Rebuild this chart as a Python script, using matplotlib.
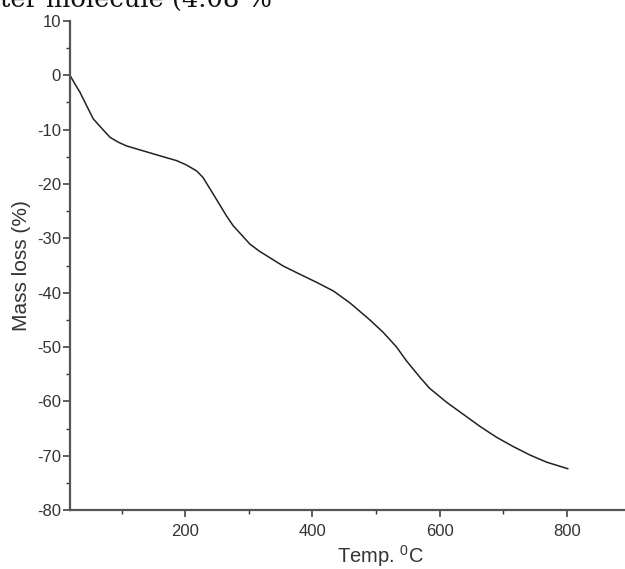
import numpy as np
import matplotlib
matplotlib.use("Agg")
import matplotlib.pyplot as plt
from matplotlib.ticker import MultipleLocator

plt.rcParams['font.family'] = ['Liberation Sans', 'DejaVu Sans']
plt.rcParams['axes.unicode_minus'] = False
plt.rcParams['mathtext.fontset'] = 'custom'
plt.rcParams['mathtext.rm'] = 'Liberation Sans'

# TGA curve
temp = [19, 26.8, 34.6, 45.2, 55.5, 70, 81.8, 94.8, 108, 134, 160, 186.6,
        202, 218, 228, 239, 250, 265, 275.5, 288, 302, 317, 328, 354, 380,
        406.5, 433, 459, 490, 511, 522, 532, 548, 569, 584, 611, 637,
        663, 689, 715, 742, 768, 801]
mass = [0, -1.6, -3.1, -5.6, -8.0, -9.9, -11.4, -12.3, -13.0, -13.9, -14.8,
        -15.7, -16.5, -17.6, -18.8, -20.9, -23.0, -25.9, -27.7, -29.3, -31.1,
        -32.4, -33.2, -35.1, -36.6, -38.1, -39.7, -41.9, -45.0, -47.3,
        -48.7, -50.0, -52.6, -55.6, -57.6, -60.2, -62.4, -64.6, -66.6, -68.3,
        -69.9, -71.2, -72.4]

caption = "ter molecule (4.08 %"

fig = plt.figure(figsize=(6.25, 5.69), dpi=100)
ax = fig.add_axes([70 / 625, 59 / 569, 555 / 625, 489 / 569])

ax.plot(temp, mass, color='#222222', lw=1.1)

ax.set_xlim(19, 891)
ax.set_ylim(-80, 10)
ax.xaxis.set_major_locator(MultipleLocator(200))
ax.xaxis.set_minor_locator(MultipleLocator(100))
ax.yaxis.set_major_locator(MultipleLocator(10))
ax.yaxis.set_minor_locator(MultipleLocator(5))

for s in ['top', 'right']:
    ax.spines[s].set_visible(False)
for s in ['left', 'bottom']:
    ax.spines[s].set_color('#555555')
    ax.spines[s].set_linewidth(1.6)

ax.tick_params(which='major', length=5, width=1.1, color='#333333',
               labelsize=12, labelcolor='#333333')
ax.tick_params(which='minor', length=3, width=1.0, color='#333333')
ax.tick_params(axis='x', which='major', pad=5)
ax.tick_params(axis='y', which='major', pad=1.5)

ax.set_ylabel("Mass loss (%)", fontsize=15, color='#333333')
ax.yaxis.set_label_coords(-0.0865, 0.5)
ax.yaxis.label.set_va('center')
ax.set_xlabel(r"Temp. $^{\mathrm{0}}$C", fontsize=14.5, color='#333333')
ax.xaxis.set_label_coords(0.559, -0.094)
ax.xaxis.label.set_va('center')

fig.text(0.0, 1 - 7 / 569, caption, family='DejaVu Serif', fontsize=18.5,
         ha='left', va='baseline', color='#111111')

fig.savefig("out.png", dpi=100)
